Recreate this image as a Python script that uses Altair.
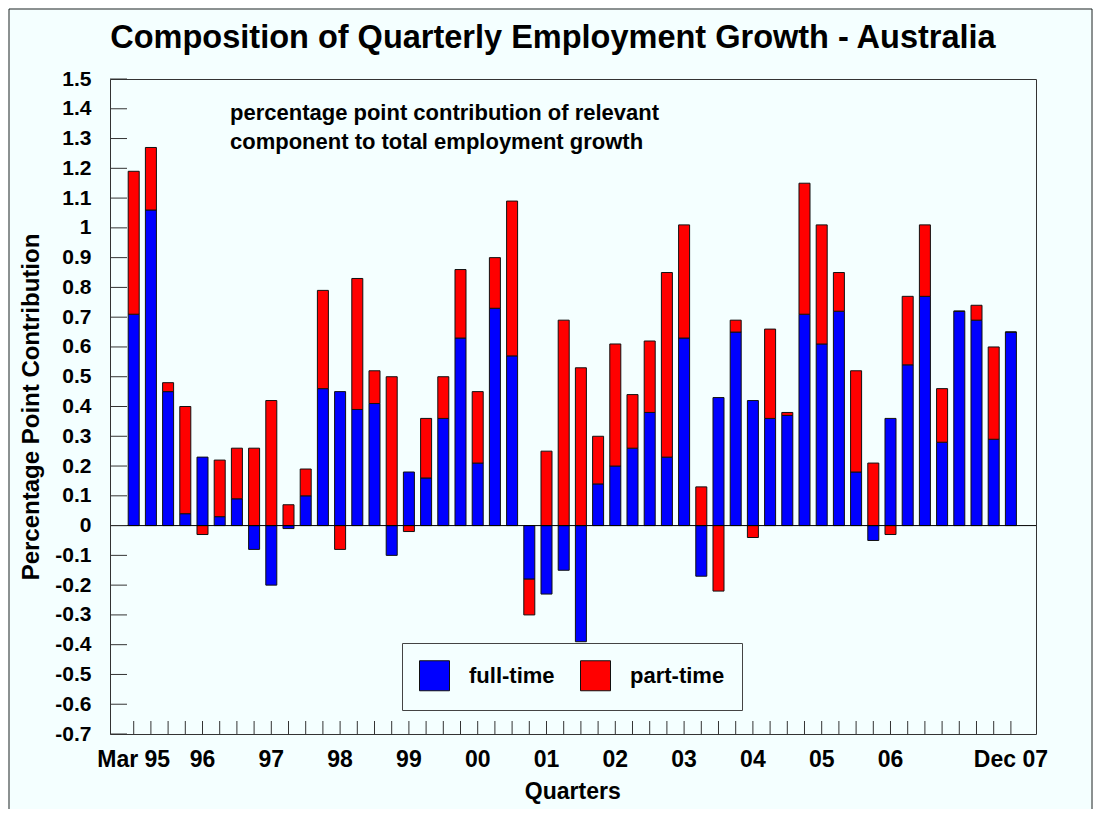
import altair as alt
import pandas as pd

# ---- data ----
quarters = list(range(52))  # Mar 95 ... Dec 07
tick_labels = [
    "Mar 95", "", "", "", "96", "", "", "", "97", "", "", "",
    "98", "", "", "", "99", "", "", "", "00", "", "", "",
    "01", "", "", "", "02", "", "", "", "03", "", "", "",
    "04", "", "", "", "05", "", "", "", "06", "", "", "",
    "", "", "", "Dec 07",
]
full_time = [
    0.71, 1.06, 0.45, 0.04, 0.23, 0.03, 0.09, -0.08, -0.20, -0.01,
    0.10, 0.46, 0.45, 0.39, 0.41, -0.10, 0.18, 0.16, 0.36, 0.63,
    0.21, 0.73, 0.57, -0.18, -0.23, -0.15, -0.39, 0.14, 0.20, 0.26,
    0.38, 0.23, 0.63, -0.17, 0.43, 0.65, 0.42, 0.36, 0.37, 0.71,
    0.61, 0.72, 0.18, -0.05, 0.36, 0.54, 0.77, 0.28, 0.72, 0.69,
    0.29, 0.65,
]
part_time = [
    0.48, 0.21, 0.03, 0.36, -0.03, 0.19, 0.17, 0.26, 0.42, 0.07,
    0.09, 0.33, -0.08, 0.44, 0.11, 0.50, -0.02, 0.20, 0.14, 0.23,
    0.24, 0.17, 0.52, -0.12, 0.25, 0.69, 0.53, 0.16, 0.41, 0.18,
    0.24, 0.62, 0.38, 0.13, -0.22, 0.04, -0.04, 0.30, 0.01, 0.44,
    0.40, 0.13, 0.34, 0.21, -0.03, 0.23, 0.24, 0.18, 0.00, 0.05,
    0.31, 0.00,
]
series_names = ["full-time", "part-time"]
series_colors = ["#0000FF", "#FF0000"]
y_ticks = [-0.7, -0.6, -0.5, -0.4, -0.3, -0.2, -0.1, 0.0, 0.1, 0.2, 0.3,
           0.4, 0.5, 0.6, 0.7, 0.8, 0.9, 1.0, 1.1, 1.2, 1.3, 1.4, 1.5]
note_lines = ["percentage point contribution of relevant",
              "component to total employment growth"]
title_text = "Composition of Quarterly Employment Growth - Australia"

# ---- tables ----
rows = []
for q, ft, pt in zip(quarters, full_time, part_time):
    rows.append({"q": q, "series": series_names[0], "value": ft, "ord": 0})
    rows.append({"q": q, "series": series_names[1], "value": pt, "ord": 1})
df = pd.DataFrame(rows)
qdf = pd.DataFrame({"q": quarters})
tdf = pd.DataFrame({"t": y_ticks})
one = pd.DataFrame({"a": [0]})

FONT = "Liberation Sans"
W, H = 926, 655
BG = "#F4FFFF"

label_js = "[" + ",".join("'" + s + "'" for s in tick_labels) + "][datum.value]"

x_scale = alt.Scale(paddingInner=0.36, paddingOuter=1, range=[1, 923.6])
y_scale = alt.Scale(domain=[-0.7, 1.5], nice=False, zero=False)

x_axis = alt.Axis(
    title="Quarters", labelExpr=label_js, labelAngle=0, ticks=False,
    domain=False, grid=False, labelOverlap=False, labelBound=False,
    labelFont=FONT, labelFontSize=23, labelFontWeight="bold",
    labelColor="black", labelPadding=14,
    titleFont=FONT, titleFontSize=23, titleFontWeight="bold",
    titleColor="black", titlePadding=9,
)
y_axis = alt.Axis(
    title="Percentage Point Contribution", values=y_ticks,
    labelExpr="'' + round(datum.value * 10) / 10",
    ticks=False, domain=False, grid=False, labelOverlap=False,
    labelFont=FONT, labelFontSize=21, labelFontWeight="bold",
    labelColor="black", labelPadding=19,
    titleFont=FONT, titleFontSize=24, titleFontWeight="bold",
    titleColor="black", titlePadding=11,
)

bars = alt.Chart(df).mark_bar(stroke="#111111", strokeWidth=1, opacity=1).encode(
    x=alt.X("q:O", scale=x_scale, axis=x_axis),
    y=alt.Y("value:Q", stack="zero", scale=y_scale, axis=y_axis),
    color=alt.Color(
        "series:N", title=None,
        scale=alt.Scale(domain=series_names, range=series_colors),
        legend=alt.Legend(
            orient="none", legendX=292, legendY=564, direction="horizontal",
            symbolType="square", symbolSize=900, symbolStrokeColor="#111111",
            symbolStrokeWidth=1, symbolOpacity=1,
            labelFont=FONT, labelFontSize=22, labelFontWeight="bold",
            labelColor="black", labelOffset=19, columnPadding=23,
            padding=17, strokeColor="#444444", fillColor=BG,
        ),
    ),
    order=alt.Order("ord:Q", sort="ascending"),
)

zero_line = alt.Chart(pd.DataFrame({"z": [0.0]})).mark_rule(
    color="black", strokeWidth=1
).encode(y=alt.Y("z:Q", scale=y_scale, axis=y_axis, title="Percentage Point Contribution"))

y_tick_marks = alt.Chart(tdf).mark_rule(color="#333333", strokeWidth=1).encode(
    y=alt.Y("t:Q", scale=y_scale, axis=y_axis, title="Percentage Point Contribution"),
    x=alt.value(0), x2=alt.value(17),
)

x_tick_marks = alt.Chart(qdf).mark_rule(color="#333333", strokeWidth=1).encode(
    x=alt.X("q:O", bandPosition=0.5, scale=x_scale, axis=x_axis, title="Quarters"),
    y=alt.value(H), y2=alt.value(H - 13),
)

note = alt.Chart(one).mark_text(
    align="left", baseline="top", font=FONT, fontSize=22, fontWeight="bold",
    color="black", lineHeight=29, text=note_lines,
).encode(x=alt.value(120), y=alt.value(24))

title = alt.Chart(one).mark_text(
    align="center", baseline="middle", font=FONT, fontSize=32.5,
    fontWeight="bold", color="black", text=title_text,
).encode(x=alt.value(443), y=alt.value(-41))

frame_top = alt.Chart(one).mark_rule(color="#222222").encode(
    x=alt.value(-101), x2=alt.value(982), y=alt.value(-70)
)
frame_left = alt.Chart(one).mark_rule(color="#222222").encode(
    x=alt.value(-101), y=alt.value(-70), y2=alt.value(H + 75)
)
frame_right = alt.Chart(one).mark_rule(color="#222222").encode(
    x=alt.value(982), y=alt.value(-70), y2=alt.value(H + 75)
)

chart = alt.layer(
    bars, zero_line, y_tick_marks, x_tick_marks, note, title,
    frame_top, frame_left, frame_right,
).properties(
    width=W, height=H,
    autosize=alt.AutoSizeParams(type="none"),
    padding={"left": 102, "top": 71, "right": 57, "bottom": 75},
).configure(
    background=BG,
).configure_view(
    stroke="#333333", strokeWidth=1, fill=BG,
)

chart.save("out.html", embed_options={"renderer": "svg", "actions": False})
